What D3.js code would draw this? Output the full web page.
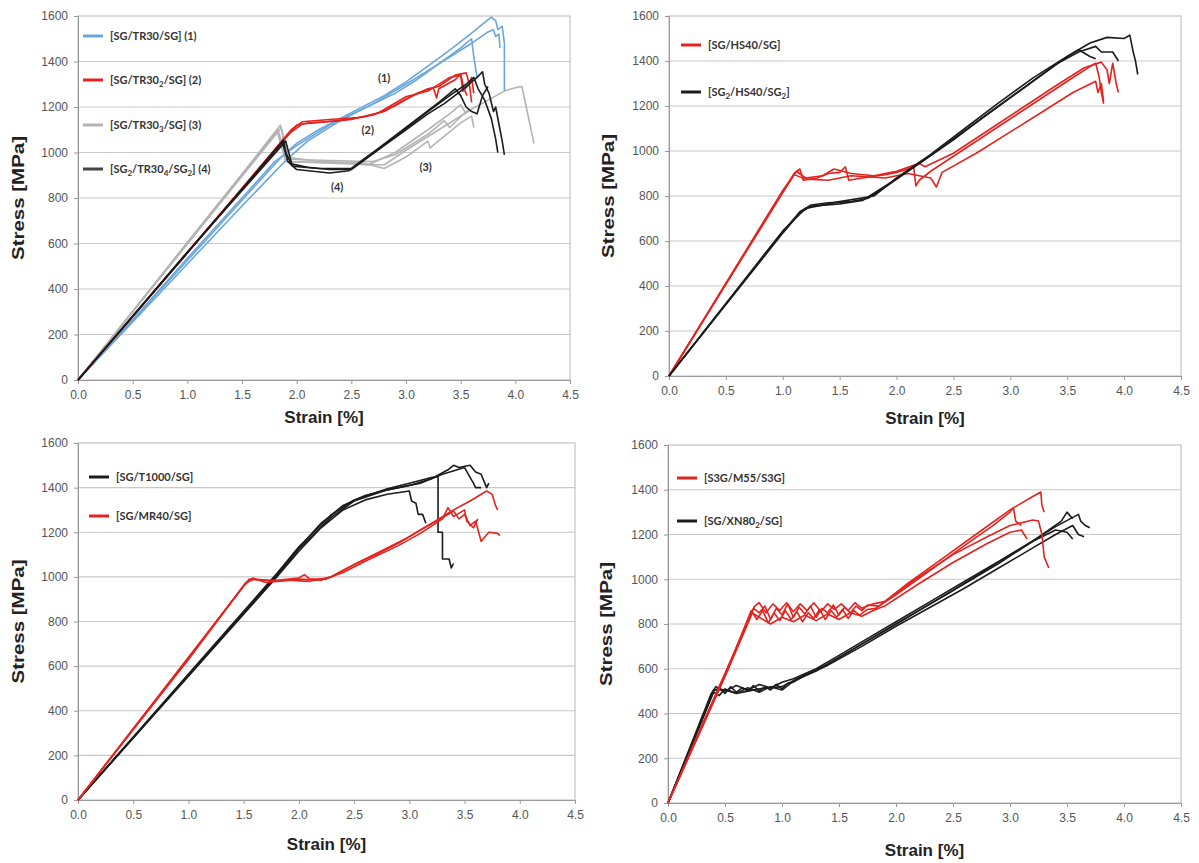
<!DOCTYPE html>
<html>
<head>
<meta charset="utf-8">
<title>Stress-strain curves</title>
<script src="https://d3js.org/d3.v7.min.js"></script>
<style>
body { margin: 0; background: #fff; }
svg { display: block; }
.tick text { font-family: "Liberation Sans", Arial, sans-serif; font-size: 12px; fill: #555; }
.ytitle, .xtitle { font-family: "Liberation Sans", Arial, sans-serif; font-weight: bold; font-size: 17px; fill: #222; }
.legend text { font-family: Lato, "Open Sans", sans-serif; font-size: 11px; font-weight: bold; fill: #333; }
.note { font-family: Lato, "Open Sans", sans-serif; font-size: 11px; font-weight: bold; fill: #333; }
.curve { fill: none; stroke-width: 1.6px; stroke-linejoin: round; }
</style>
</head>
<body>
<svg width="1199" height="863"></svg>
<script>
// axis ticks (same on every panel)
var strainTicks = [0, 0.5, 1, 1.5, 2, 2.5, 3, 3.5, 4, 4.5];
var stressTicks = [0, 200, 400, 600, 800, 1000, 1200, 1400, 1600];

// ---- panel 1 : TR30 family, specimens as [strain %, stress MPa]
var tr30_1 = [
  [[0,0],[0.5,262],[1.0,525],[1.5,790],[1.85,975],[2.0,1040],[2.2,1100],[2.5,1175],[2.8,1250],[3.0,1310],[3.2,1380],[3.4,1450],[3.6,1525],[3.78,1595],[3.82,1580],[3.84,1540],[3.88,1555],[3.9,1480],[3.9,1270]],
  [[0,0],[0.5,255],[1.0,510],[1.5,765],[1.9,965],[2.1,1050],[2.4,1140],[2.7,1215],[3.0,1300],[3.2,1360],[3.4,1420],[3.6,1480],[3.75,1530],[3.8,1540],[3.82,1510],[3.85,1520],[3.86,1460]],
  [[0,0],[0.5,265],[1.0,535],[1.5,800],[1.8,960],[2.0,1030],[2.3,1120],[2.6,1190],[2.9,1260],[3.1,1320],[3.3,1390],[3.5,1460],[3.6,1500],[3.62,1420],[3.65,1330]]
];
var tr30_2 = [
  [[0,0],[0.5,280],[1.0,562],[1.5,843],[1.88,1060],[1.95,1100],[2.05,1135],[2.3,1145],[2.6,1155],[2.8,1180],[3.0,1235],[3.2,1280],[3.3,1290],[3.45,1340],[3.55,1350],[3.58,1300],[3.6,1330],[3.62,1260]],
  [[0,0],[0.5,278],[1.0,558],[1.5,838],[1.9,1065],[2.0,1120],[2.1,1130],[2.4,1140],[2.7,1165],[2.9,1205],[3.1,1260],[3.25,1285],[3.28,1240],[3.3,1280],[3.45,1320],[3.5,1345],[3.53,1280],[3.56,1250]],
  [[0,0],[1.0,560],[1.87,1050],[1.95,1090],[2.05,1125],[2.5,1145],[2.75,1175],[3.0,1245],[3.2,1270],[3.4,1330],[3.5,1340],[3.52,1270],[3.58,1300],[3.6,1220]]
];
var tr30_3 = [
  [[0,0],[0.5,302],[1.0,605],[1.5,905],[1.85,1120],[1.9,1020],[1.95,960],[2.2,955],[2.5,950],[2.8,945],[3.0,1010],[3.3,1100],[3.6,1190],[3.9,1270],[4.0,1285],[4.06,1290],[4.1,1200],[4.17,1040]],
  [[0,0],[1.0,600],[1.83,1100],[1.9,980],[2.2,960],[2.6,955],[2.8,930],[3.0,980],[3.2,1050],[3.22,1020],[3.5,1130],[3.6,1160],[3.62,1110]],
  [[0,0],[1.0,598],[1.86,1110],[1.92,970],[2.3,965],[2.7,960],[2.9,990],[3.2,1080],[3.35,1140],[3.4,1110],[3.55,1180],[3.6,1190]],
  [[0,0],[1.0,602],[1.82,1095],[1.9,960],[2.4,955],[2.65,945],[2.9,1000],[3.2,1100],[3.4,1170],[3.5,1210],[3.55,1170]]
];
var tr30_4 = [
  [[0,0],[0.5,280],[1.0,560],[1.5,840],[1.88,1055],[1.9,1000],[1.95,950],[2.1,935],[2.3,925],[2.5,925],[2.6,960],[2.8,1030],[3.0,1100],[3.2,1170],[3.35,1215],[3.5,1270],[3.65,1330],[3.7,1355],[3.72,1300],[3.76,1260],[3.8,1180],[3.82,1200],[3.86,1100],[3.88,1050],[3.9,990]],
  [[0,0],[1.0,558],[1.87,1045],[1.92,960],[2.0,925],[2.3,910],[2.48,920],[2.6,965],[2.9,1070],[3.2,1180],[3.4,1250],[3.55,1300],[3.62,1330],[3.66,1280],[3.72,1230],[3.78,1150],[3.82,1060],[3.84,1000]],
  [[0,0],[1.0,562],[1.9,1050],[1.96,940],[2.2,930],[2.5,930],[2.7,1000],[3.0,1110],[3.3,1220],[3.45,1280],[3.5,1250],[3.55,1200],[3.6,1180],[3.65,1170],[3.7,1250],[3.75,1290]]
];
var p1Labels = ["[SG/TR30/SG] (1)", "[SG/TR30_2/SG] (2)", "[SG/TR30_3/SG] (3)", "[SG_2/TR30_4/SG_2] (4)"];
var p1Notes = [["(1)", 2.80, 1327], ["(2)", 2.65, 1099], ["(3)", 3.18, 936], ["(4)", 2.37, 848]];

// ---- panel 2 : HS40
var hs40 = [
  [[0,0],[0.5,410],[1.0,820],[1.1,900],[1.15,920],[1.18,870],[1.3,880],[1.4,900],[1.5,905],[1.55,930],[1.58,870],[1.7,880],[1.9,895],[2.0,905],[2.1,920],[2.15,930],[2.17,845],[2.2,870],[2.3,910],[2.6,1010],[2.9,1110],[3.2,1210],[3.5,1310],[3.7,1375],[3.75,1390],[3.78,1330],[3.8,1260],[3.82,1210]],
  [[0,0],[1.0,815],[1.12,910],[1.2,880],[1.35,890],[1.45,920],[1.6,900],[1.8,890],[2.0,910],[2.2,945],[2.25,930],[2.5,990],[2.8,1090],[3.1,1190],[3.4,1290],[3.65,1370],[3.8,1395],[3.85,1360],[3.87,1300],[3.9,1390],[3.93,1300],[3.95,1260]],
  [[0,0],[1.0,825],[1.1,895],[1.2,875],[1.4,870],[1.6,890],[1.9,880],[2.1,900],[2.3,880],[2.35,840],[2.4,905],[2.7,990],[3.0,1085],[3.3,1180],[3.55,1260],[3.75,1310],[3.77,1260],[3.8,1300],[3.82,1220]]
];
var hs40_sg2 = [
  [[0,0],[0.5,320],[1.0,640],[1.15,730],[1.25,760],[1.4,770],[1.6,775],[1.75,790],[1.9,840],[2.1,910],[2.3,980],[2.6,1090],[2.9,1200],[3.2,1310],[3.5,1420],[3.7,1480],[3.85,1505],[4.0,1500],[4.05,1515],[4.08,1440],[4.1,1400],[4.12,1340]],
  [[0,0],[1.0,635],[1.15,725],[1.25,755],[1.5,765],[1.7,780],[1.95,860],[2.2,945],[2.5,1050],[2.8,1165],[3.1,1275],[3.4,1385],[3.6,1440],[3.75,1465],[3.8,1440],[3.9,1440],[3.95,1400]],
  [[0,0],[1.0,645],[1.2,745],[1.5,775],[1.8,800],[2.0,880],[2.3,985],[2.6,1100],[2.9,1215],[3.2,1325],[3.45,1405],[3.6,1450],[3.7,1420],[3.75,1410]]
];
var p2Labels = ["[SG/HS40/SG]", "[SG_2/HS40/SG_2]"];

// ---- panel 3 : T1000 and MR40
var t1000 = [
  [[0,0],[0.5,280],[1.0,560],[1.5,840],[1.8,1010],[2.0,1130],[2.2,1240],[2.4,1320],[2.6,1365],[2.8,1390],[3.0,1410],[3.2,1440],[3.35,1480],[3.4,1500],[3.45,1490],[3.55,1500],[3.6,1470],[3.65,1460],[3.7,1400],[3.72,1420]],
  [[0,0],[1.0,555],[1.8,1000],[2.0,1115],[2.2,1220],[2.4,1300],[2.6,1345],[2.8,1370],[3.0,1385],[3.02,1340],[3.06,1330],[3.08,1280],[3.12,1280],[3.15,1240]],
  [[0,0],[1.0,565],[1.8,1015],[2.0,1135],[2.3,1280],[2.5,1345],[2.8,1395],[3.0,1420],[3.2,1445],[3.26,1450],[3.26,1200],[3.3,1200],[3.3,1080],[3.36,1080],[3.38,1040],[3.4,1060]],
  [[0,0],[1.0,558],[1.8,1005],[2.0,1125],[2.3,1270],[2.5,1340],[2.8,1390],[3.1,1420],[3.3,1460],[3.5,1490],[3.58,1420],[3.6,1400],[3.65,1400]]
];
var mr40 = [
  [[0,0],[0.5,320],[1.0,640],[1.55,990],[1.65,985],[1.8,985],[2.0,995],[2.05,1010],[2.1,990],[2.25,990],[2.4,1030],[2.6,1080],[2.8,1130],[3.0,1180],[3.2,1240],[3.4,1300],[3.55,1340],[3.7,1385],[3.75,1370],[3.78,1320],[3.8,1300]],
  [[0,0],[1.0,630],[1.5,960],[1.58,995],[1.7,975],[1.9,985],[2.1,980],[2.3,1000],[2.5,1055],[2.7,1100],[2.9,1150],[3.1,1210],[3.3,1265],[3.4,1295],[3.45,1260],[3.5,1280],[3.55,1230],[3.6,1250],[3.65,1160],[3.72,1200],[3.8,1195],[3.82,1185]],
  [[0,0],[1.0,635],[1.52,975],[1.6,990],[1.8,980],[2.0,990],[2.2,985],[2.4,1020],[2.6,1070],[2.9,1140],[3.1,1195],[3.3,1260],[3.35,1310],[3.4,1270],[3.5,1300],[3.52,1250],[3.58,1220],[3.62,1260]]
];
var p3Labels = ["[SG/T1000/SG]", "[SG/MR40/SG]"];

// ---- panel 4 : M55 and XN80
var m55 = [
  [[0,0],[0.3,350],[0.5,580],[0.75,870],[0.8,850],[0.85,880],[0.9,820],[0.95,870],[1.0,840],[1.05,890],[1.1,830],[1.15,875],[1.2,845],[1.25,880],[1.3,830],[1.35,870],[1.4,850],[1.45,885],[1.5,840],[1.55,875],[1.6,850],[1.65,880],[1.7,860],[1.75,885],[1.85,880],[2.1,980],[2.4,1090],[2.7,1200],[3.0,1310],[3.2,1370],[3.27,1390],[3.28,1330],[3.3,1300]],
  [[0,0],[0.5,570],[0.73,860],[0.78,820],[0.83,860],[0.88,805],[0.93,850],[0.98,815],[1.03,860],[1.08,820],[1.13,855],[1.18,810],[1.23,850],[1.28,825],[1.33,865],[1.38,820],[1.43,860],[1.48,830],[1.53,865],[1.58,825],[1.63,860],[1.68,840],[1.75,865],[1.82,870],[2.0,930],[2.3,1040],[2.6,1150],[2.85,1240],[3.0,1300],[3.03,1320],[3.05,1260],[3.1,1240]],
  [[0,0],[0.5,575],[0.76,880],[0.8,895],[0.86,850],[0.92,890],[0.98,860],[1.04,895],[1.1,855],[1.16,890],[1.22,860],[1.28,895],[1.34,855],[1.4,890],[1.46,865],[1.52,890],[1.58,860],[1.64,895],[1.7,870],[1.8,890],[1.9,900],[2.2,1010],[2.5,1110],[2.8,1190],[3.0,1240],[3.2,1265],[3.25,1260],[3.28,1200],[3.3,1100],[3.34,1050]],
  [[0,0],[0.5,565],[0.74,850],[0.8,830],[0.9,800],[1.0,830],[1.1,810],[1.2,840],[1.3,815],[1.4,845],[1.5,820],[1.6,850],[1.7,835],[1.8,860],[1.9,880],[2.2,980],[2.5,1075],[2.8,1160],[3.0,1210],[3.1,1220],[3.15,1180]]
];
var xn80 = [
  [[0,0],[0.2,250],[0.4,500],[0.45,515],[0.5,490],[0.55,520],[0.6,495],[0.65,515],[0.7,500],[0.75,525],[0.8,500],[0.85,520],[0.9,505],[0.95,530],[1.0,510],[1.05,535],[1.1,540],[1.2,570],[1.4,620],[1.6,680],[1.8,740],[2.0,800],[2.3,890],[2.6,980],[2.9,1070],[3.2,1170],[3.45,1260],[3.5,1300],[3.55,1270]],
  [[0,0],[0.4,495],[0.45,480],[0.5,510],[0.6,490],[0.7,515],[0.8,495],[0.9,520],[1.0,505],[1.1,545],[1.3,590],[1.5,650],[1.7,710],[1.9,770],[2.2,860],[2.5,950],[2.8,1045],[3.1,1140],[3.4,1235],[3.6,1290],[3.62,1260],[3.66,1240],[3.7,1230]],
  [[0,0],[0.38,490],[0.42,520],[0.5,500],[0.6,525],[0.7,505],[0.8,530],[0.9,515],[1.0,540],[1.1,555],[1.3,600],[1.5,660],[1.7,720],[2.0,810],[2.3,900],[2.6,990],[2.9,1080],[3.2,1170],[3.4,1220],[3.5,1210],[3.55,1180]],
  [[0,0],[0.4,505],[0.5,505],[0.6,490],[0.8,510],[1.0,520],[1.15,560],[1.4,615],[1.7,700],[2.0,790],[2.3,875],[2.6,960],[2.9,1050],[3.2,1140],[3.4,1200],[3.55,1240],[3.6,1200],[3.65,1190]]
];
var p4Labels = ["[S3G/M55/S3G]", "[SG/XN80_2/SG]"];

var BLUE = "#6aa6dc", RED = "#e4231f", GRAY = "#b4b4b4", BLACK = "#1c1c1c";

var panels = [
  { left: 78, right: 570, top: 16, bottom: 380, yTitleX: 18, xTitleY: 423,
    curves: [[tr30_3, GRAY], [tr30_1, BLUE], [tr30_2, RED], [tr30_4, BLACK]],
    legend: [[p1Labels[0], BLUE, 36], [p1Labels[1], RED, 80], [p1Labels[2], GRAY, 125], [p1Labels[3], "#444", 169]],
    legendX: 83, notes: p1Notes },
  { left: 669, right: 1181, top: 16, bottom: 376, yTitleX: 608, xTitleY: 424,
    curves: [[hs40, RED], [hs40_sg2, BLACK]],
    legend: [[p2Labels[0], RED, 45], [p2Labels[1], BLACK, 92]],
    legendX: 681 },
  { left: 78, right: 575, top: 443, bottom: 800, yTitleX: 18, xTitleY: 850,
    curves: [[t1000, BLACK], [mr40, RED]],
    legend: [[p3Labels[0], BLACK, 477], [p3Labels[1], RED, 516]],
    legendX: 89 },
  { left: 668, right: 1181, top: 445, bottom: 803, yTitleX: 606, xTitleY: 856,
    curves: [[xn80, BLACK], [m55, RED]],
    legend: [[p4Labels[0], RED, 478], [p4Labels[1], BLACK, 521]],
    legendX: 677 }
];

var svg = d3.select("svg");
svg.append("rect").attr("width", 1199).attr("height", 863).attr("fill", "#fff");

// label strings use "_n" for a subscript digit
function addLabel(sel, str) {
  var parts = str.split(/_(\d)/);
  parts.forEach(function(p, i) {
    if (p === "") return;
    var t = sel.append("tspan").text(p);
    if (i % 2 === 1) t.attr("font-size", "8px").attr("dy", "3");
    else if (i > 0) t.attr("dy", "-3");
  });
}

panels.forEach(function(p) {
  var x = d3.scaleLinear().domain([0, 4.5]).range([p.left, p.right]);
  var y = d3.scaleLinear().domain([0, 1600]).range([p.bottom, p.top]);
  var g = svg.append("g");

  g.append("g").selectAll("line").data(stressTicks.slice(1, -1)).enter().append("line")
    .attr("x1", p.left).attr("x2", p.right)
    .attr("y1", function(d) { return y(d); }).attr("y2", function(d) { return y(d); })
    .attr("stroke", "#c8c8c8").attr("stroke-width", 1.2);
  g.append("rect").attr("x", p.left).attr("y", p.top)
    .attr("width", p.right - p.left).attr("height", p.bottom - p.top)
    .attr("fill", "none").attr("stroke", "#c4c4c4").attr("stroke-width", 1.2);

  var xa = g.append("g").attr("transform", "translate(0," + p.bottom + ")")
    .call(d3.axisBottom(x).tickValues(strainTicks).tickFormat(d3.format(".1f")).tickSize(4).tickPadding(6));
  var ya = g.append("g").attr("transform", "translate(" + p.left + ",0)")
    .call(d3.axisLeft(y).tickValues(stressTicks).tickFormat(d3.format("d")).tickSize(4).tickPadding(6));
  [xa, ya].forEach(function(a) {
    a.select(".domain").attr("stroke", "#999");
    a.selectAll(".tick line").attr("stroke", "#999");
  });

  g.append("text").attr("class", "xtitle").attr("text-anchor", "middle")
    .attr("x", (p.left + p.right) / 2).attr("y", p.xTitleY).text("Strain [%]");
  g.append("text").attr("class", "ytitle").attr("text-anchor", "middle")
    .attr("transform", "translate(" + p.yTitleX + "," + ((p.top + p.bottom) / 2) + ") rotate(-90)")
    .attr("dy", "0.35em").attr("textLength", 124).attr("lengthAdjust", "spacingAndGlyphs")
    .text("Stress [MPa]");

  var line = d3.line().x(function(d) { return x(d[0]); }).y(function(d) { return y(d[1]); });
  p.curves.forEach(function(c) {
    g.append("g").selectAll("path").data(c[0]).enter().append("path")
      .attr("class", "curve").attr("stroke", c[1]).attr("d", line);
  });

  var lg = g.append("g").attr("class", "legend");
  p.legend.forEach(function(e) {
    lg.append("line").attr("x1", p.legendX).attr("x2", p.legendX + 20)
      .attr("y1", e[2]).attr("y2", e[2]).attr("stroke", e[1]).attr("stroke-width", 3);
    var t = lg.append("text").attr("x", p.legendX + 27).attr("y", e[2]).attr("dy", "0.35em");
    addLabel(t, e[0]);
  });

  if (p.notes) {
    g.selectAll(".note").data(p.notes).enter().append("text").attr("class", "note")
      .attr("text-anchor", "middle").attr("dy", "0.35em")
      .attr("x", function(d) { return x(d[1]); }).attr("y", function(d) { return y(d[2]); })
      .text(function(d) { return d[0]; });
  }
});
</script>
</body>
</html>
